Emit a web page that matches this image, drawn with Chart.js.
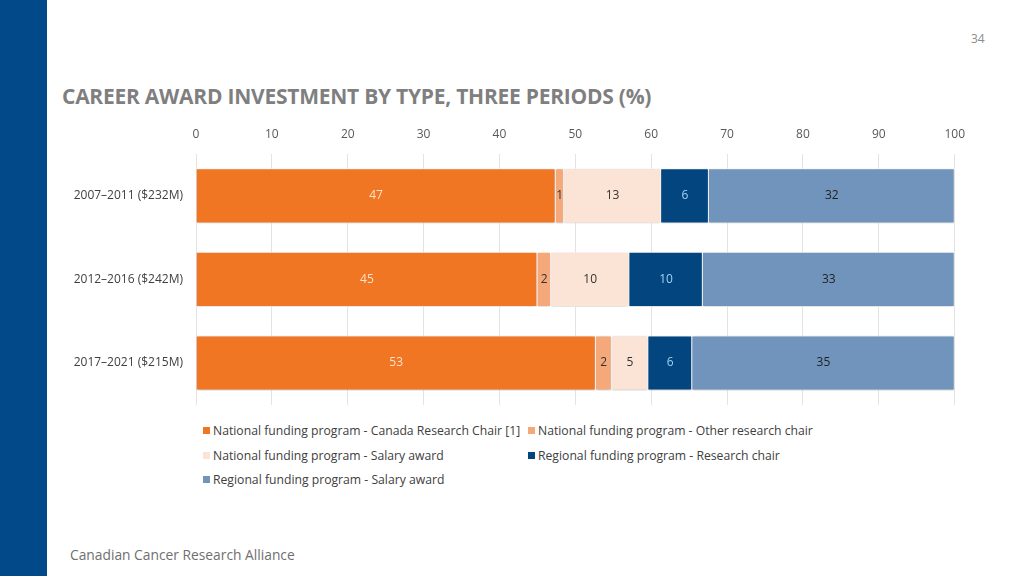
<!DOCTYPE html>
<html>
<head>
<meta charset="utf-8">
<script src="https://cdn.jsdelivr.net/npm/chart.js@4"></script>
<style>
  body { margin: 0; width: 1024px; height: 576px; background: #fff; position: relative; overflow: hidden; font-family: "Open Sans", sans-serif; }
  #strip { position: absolute; left: 0; top: 0; width: 47px; height: 576px; background: #02498a; }
  #pnum { position: absolute; left: 971px; top: 30px; font-size: 12px; color: #8c8c8c; }
  #title { position: absolute; left: 62px; top: 82px; font-size: 21px; font-weight: bold; color: #7f7f7f; letter-spacing: -0.25px; }
  #wrap { position: absolute; left: 50px; top: 120px; width: 927px; height: 297px; }
  #legend { position: absolute; left: 203px; top: 422px; font-size: 12.2px; color: #404040; }
  .li { position: absolute; white-space: nowrap; }
  .li span.box { display: inline-block; width: 7px; height: 7px; margin-right: 3px; vertical-align: 1px; }
  #foot { position: absolute; left: 70px; top: 545px; font-size: 13.8px; color: #6f6f6f; }
</style>
</head>
<body>
<div id="strip"></div>
<div id="pnum">34</div>
<div id="title">CAREER AWARD INVESTMENT BY TYPE, THREE PERIODS (%)</div>
<div id="wrap"><canvas id="chart"></canvas></div>
<div id="legend"></div>
<div id="foot">Canadian Cancer Research Alliance</div>
<script>
const periods = ['2007\u20132011 ($232M)', '2012\u20132016 ($242M)', '2017\u20132021 ($215M)'];
const seriesNames = [
    'National funding program - Canada Research Chair [1]',
    'National funding program - Other research chair',
    'National funding program - Salary award',
    'Regional funding program - Research chair',
    'Regional funding program - Salary award',
];
const crc = [47.4, 45.0, 52.7];
const otherChair = [1.1, 1.8, 2.1];
const nationalSalary = [12.8, 10.3, 4.8];
const regionalChair = [6.3, 9.7, 5.8];
const regionalSalary = [32.4, 33.2, 34.6];
const xTicks = [0, 10, 20, 30, 40, 50, 60, 70, 80, 90, 100];

const colors = ['#f07623', '#f5a97a', '#fbe3d5', '#03457f', '#7094bb'];
const labelColors = ['#fde2cc', '#333333', '#333333', '#9fd3f5', '#222222'];
const allSeries = [crc, otherChair, nationalSalary, regionalChair, regionalSalary];

const barLabels = {
    id: 'barLabels',
    afterDatasetsDraw(chart) {
        const ctx = chart.ctx;
        ctx.save();
        ctx.font = '12px "Open Sans"';
        ctx.textAlign = 'center';
        ctx.textBaseline = 'middle';
        chart.data.datasets.forEach((ds, i) => {
            chart.getDatasetMeta(i).data.forEach((bar, j) => {
                ctx.fillStyle = labelColors[i];
                ctx.fillText(Math.round(ds.data[j]), (bar.x + bar.base) / 2, bar.y);
            });
        });
        ctx.restore();
    }
};

const barShadow = {
    id: 'barShadow',
    beforeDatasetsDraw(chart) {
        const ctx = chart.ctx;
        ctx.save();
        ctx.shadowColor = 'rgba(0,0,0,0.22)';
        ctx.shadowBlur = 3;
        ctx.shadowOffsetY = 1;
    },
    afterDatasetsDraw(chart) {
        chart.ctx.restore();
    }
};

const ctx = document.getElementById('chart').getContext('2d');
const myChart = new Chart(ctx, {
    type: 'bar',
    data: {
        labels: periods,
        datasets: allSeries.map((d, i) => ({
            label: seriesNames[i],
            data: d,
            backgroundColor: colors[i],
            borderColor: '#ffffff',
            borderWidth: 1,
            barPercentage: 0.66,
            categoryPercentage: 1,
        })),
    },
    options: {
        indexAxis: 'y',
        responsive: true,
        maintainAspectRatio: false,
        animation: false,
        layout: { padding: { right: 17 } },
        plugins: { legend: { display: false }, tooltip: { enabled: false } },
        scales: {
            x: {
                position: 'top',
                stacked: true,
                min: 0, max: 100,
                afterBuildTicks: s => { s.ticks = xTicks.map(v => ({ value: v })); },
                afterFit: s => { s.height = 34; },
                grid: { color: '#e3e3e3', drawTicks: false },
                border: { display: false },
                ticks: { padding: 12, color: '#595959', font: { family: 'Open Sans', size: 12 } },
            },
            y: {
                stacked: true,
                afterFit: s => { s.width = 146; },
                grid: { display: false },
                border: { display: false },
                ticks: { padding: 5, color: '#404040', font: { family: 'Open Sans', size: 12 } },
            },
        },
    },
    plugins: [barShadow, barLabels],
});

// legend in two columns like the original
const pos = [[0, 0], [325, 0], [0, 24.5], [325, 24.5], [0, 49]];
const legend = document.getElementById('legend');
seriesNames.forEach((name, i) => {
    const el = document.createElement('div');
    el.className = 'li';
    el.style.left = pos[i][0] + 'px';
    el.style.top = pos[i][1] + 'px';
    el.innerHTML = '<span class="box" style="background:' + colors[i] + '"></span>' + name;
    legend.appendChild(el);
});
</script>
</body>
</html>
